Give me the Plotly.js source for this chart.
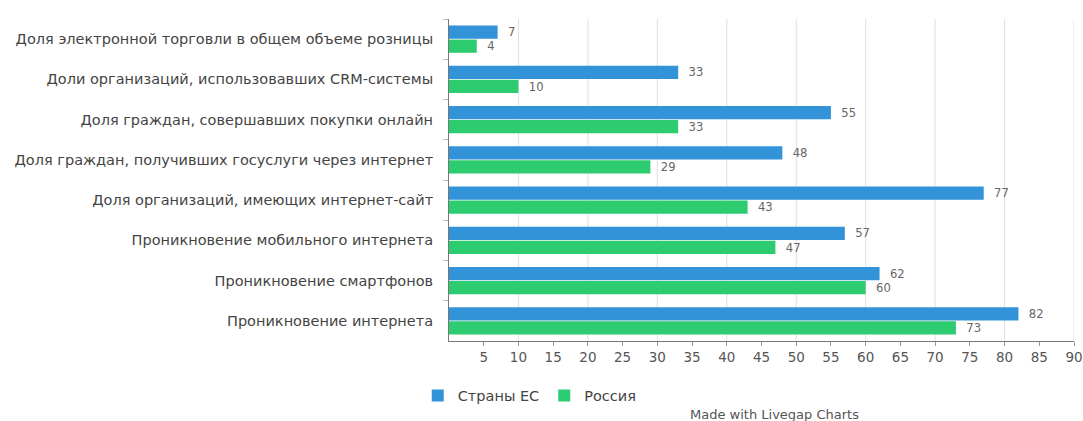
<!DOCTYPE html>
<html><head><meta charset="utf-8">
<script src="https://cdn.plot.ly/plotly-3.0.1.min.js"></script>
<style>html,body{margin:0;padding:0;background:#fff;}#chart{width:1083px;height:421px;}</style>
</head><body><div id="chart"></div>
<script>
const categories = [
  "Доля электронной торговли в общем объеме розницы",
  "Доли организаций, использовавших CRM-системы",
  "Доля граждан, совершавших покупки онлайн",
  "Доля граждан, получивших госуслуги через интернет",
  "Доля организаций, имеющих интернет-сайт",
  "Проникновение мобильного интернета",
  "Проникновение смартфонов",
  "Проникновение интернета"
];
const euValues = [7, 33, 55, 48, 77, 57, 62, 82];
const ruValues = [4, 10, 33, 29, 43, 47, 60, 73];
const seriesNames = ["Страны ЕС", "Россия"];
const xTicks = [5,10,15,20,25,30,35,40,45,50,55,60,65,70,75,80,85,90];
const gridVals = [10,20,30,40,50,60,70,80,90];

const fam = "'DejaVu Sans', 'Open Sans', sans-serif";
const font = {family: fam, color: "#555", size: 12};
const mk = (vals, name, color) => ({
  type: "bar", orientation: "h", y: categories, x: vals, name: name,
  marker: {color: color},
  texttemplate: "  %{x}", textposition: "outside",
  textfont: {family: fam, size: 14, color: "#666"},
  cliponaxis: false, hoverinfo: "x+name"
});
const data = [mk(euValues, seriesNames[0], "#3393d8"), mk(ruValues, seriesNames[1], "#2ecc71")];
const gridShapes = gridVals.map(v => ({
  type: "line", xref: "x", yref: "paper", x0: v, x1: v, y0: 0, y1: 1,
  layer: "below", line: {color: "#e0e0e0", width: 1}
}));
const layout = {
  width: 1083, height: 421,
  margin: {l: 449, r: 9, t: 19, b: 77},
  barmode: "group", bargap: 0.3, bargroupgap: 0.06,
  font: font,
  paper_bgcolor: "#fff", plot_bgcolor: "#fff",
  shapes: gridShapes,
  xaxis: {range: [0, 90], tickmode: "array", tickvals: xTicks, showgrid: false,
    showline: true, linecolor: "#777", linewidth: 1, ticks: "outside", ticklen: 4, tickcolor: "#999",
    zeroline: false, tickfont: {family: fam, size: 13.5, color: "#555"}},
  yaxis: {autorange: "reversed", showline: true, linecolor: "#777", linewidth: 1,
    ticks: "outside", tickson: "boundaries", ticklen: 5, tickcolor: "#bbb",
    ticklabelstandoff: 12,
    showgrid: false, tickfont: {family: fam, size: 14.5, color: "#444"}},
  showlegend: true,
  legend: {orientation: "h", x: -0.05, xanchor: "left", y: -0.12, yanchor: "top",
    font: {family: fam, size: 14.5, color: "#444"}, itemwidth: 30, traceorder: "normal"},
  annotations: [{text: "Made with Livegap Charts", xref: "paper", yref: "paper",
    x: 0.52, y: -0.2, xanchor: "center", yanchor: "top", showarrow: false,
    font: {family: fam, size: 13, color: "#555"}}]
};
Plotly.newPlot("chart", data, layout, {displayModeBar: false, staticPlot: true});
</script></body></html>
